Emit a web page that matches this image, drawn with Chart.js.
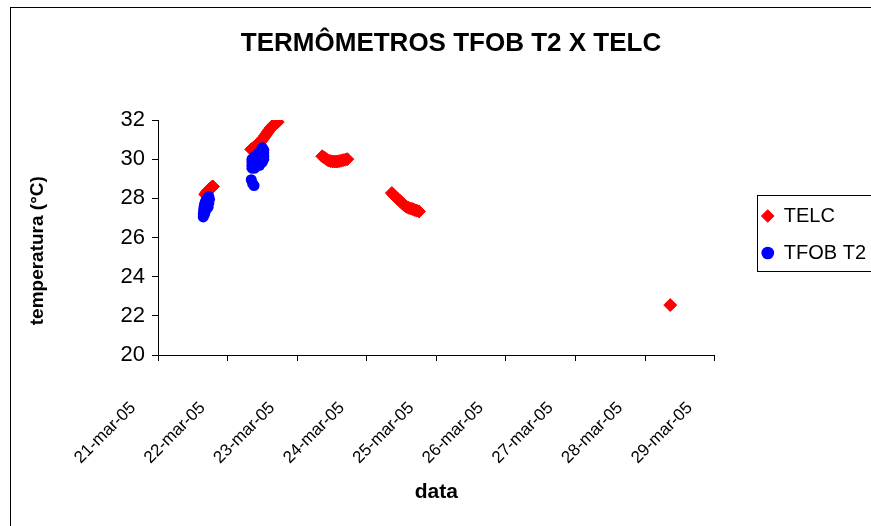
<!DOCTYPE html>
<html>
<head>
<meta charset="utf-8">
<script src="https://cdn.jsdelivr.net/npm/chart.js@4/dist/chart.umd.min.js"></script>
<style>
  html, body { margin: 0; padding: 0; background: #ffffff; }
  #wrap { width: 871px; height: 526px; }
</style>
</head>
<body>
<div id="wrap"><canvas id="c" width="871" height="526"></canvas></div>
<script>
// ---- data (x = day of March 2005, y = temperature °C) ----
const tickLabels = ['21-mar-05','22-mar-05','23-mar-05','24-mar-05','25-mar-05','26-mar-05','27-mar-05','28-mar-05','29-mar-05'];

const telcDays = [
  21.68,21.69,21.70,21.71,21.72,21.73,21.74,21.75,21.76,21.77,21.78,21.79,
  22.34,22.36,22.38,22.40,22.42,22.44,22.46,22.48,22.50,22.52,22.54,22.56,22.58,22.60,22.62,22.64,22.66,22.68,22.70,22.72,
  23.36,23.39,23.42,23.45,23.48,23.51,23.54,23.57,23.60,23.63,23.66,23.69,23.72,
  24.36,24.39,24.42,24.45,24.48,24.51,24.54,24.57,24.60,24.63,24.66,24.69,24.72,24.75,
  28.36
];
const telcTemps = [
  28.20,28.25,28.30,28.35,28.40,28.40,28.45,28.50,28.50,28.55,28.60,28.60,
  30.50,30.55,30.60,30.65,30.72,30.80,30.85,30.92,31.00,31.10,31.20,31.30,31.40,31.50,31.60,31.68,31.75,31.80,31.85,31.90,
  30.15,30.08,30.00,29.93,29.90,29.88,29.88,29.88,29.90,29.92,29.95,29.97,30.00,
  28.27,28.15,28.05,27.95,27.86,27.75,27.65,27.57,27.52,27.48,27.45,27.40,27.37,27.33,
  22.55
];

const tfobDays = [
  21.65,21.65,21.655,21.66,21.665,21.67,21.68,21.69,21.70,21.71,21.72,21.73,
  21.67,21.69,21.72,21.73,21.74,
  22.35,22.35,22.35,22.35,
  22.39,22.39,22.39,22.39,22.39,
  22.44,22.44,22.44,22.44,22.44,
  22.48,22.48,22.48,22.48,
  22.52,22.52,22.52,22.50,
  22.46,22.50,22.52,
  22.34,22.36,22.38
];
const tfobTemps = [
  27.05,27.20,27.35,27.50,27.60,27.70,27.80,27.90,27.95,28.00,28.05,28.10,
  27.20,27.40,27.55,27.75,27.95,
  29.54,29.69,29.85,30.00,
  29.54,29.69,29.85,30.00,30.15,
  29.69,29.85,30.00,30.15,30.31,
  30.00,30.15,30.31,30.46,
  30.15,30.31,30.46,30.58,
  29.69,29.85,30.00,
  28.95,28.75,28.65
];

const FONT = "'Liberation Sans', Arial, sans-serif";

const toPoints = (xs, ys) => xs.map((x, i) => ({ x: x, y: ys[i] }));

const framePlugin = {
  id: 'frame',
  afterDraw(chart) {
    const ctx = chart.ctx;
    ctx.save();
    ctx.strokeStyle = '#000';
    ctx.lineWidth = 1;
    ctx.strokeRect(10.5, 7.5, 1200, 1200);
    const hb = chart.legend && chart.legend.legendHitBoxes;
    if (hb && hb.length) {
      const l = Math.round(hb[0].left - 5) + 0.5;
      const t = Math.round(hb[0].top - 11) + 0.5;
      const last = hb[hb.length - 1];
      const b = Math.round(last.top + last.height + 8) + 0.5;
      ctx.strokeRect(l, t, 1200, b - t);
    }
    ctx.restore();
  }
};

new Chart(document.getElementById('c'), {
  type: 'scatter',
  data: {
    datasets: [
      {
        label: 'TFOB T2',
        data: toPoints(tfobDays, tfobTemps),
        pointStyle: 'circle',
        pointRadius: 5.5,
        borderWidth: 0,
        backgroundColor: '#0000FF',
        borderColor: '#0000FF',
        showLine: false
      },
      {
        label: 'TELC',
        data: toPoints(telcDays, telcTemps),
        pointStyle: 'rectRot',
        pointRadius: 6.5,
        borderWidth: 1,
        backgroundColor: '#FF0000',
        borderColor: '#FF0000',
        showLine: false
      }
    ]
  },
  options: {
    responsive: false,
    animation: false,
    events: [],
    layout: { padding: { left: 26, right: -5, top: 0, bottom: 0 } },
    plugins: {
      title: {
        display: true,
        text: 'TERMÔMETROS TFOB T2 X TELC',
        color: '#000',
        font: { family: FONT, size: 26, weight: 'bold', lineHeight: 1.2 },
        padding: { top: 28, bottom: 60.8 }
      },
      legend: {
        position: 'right',
        fullSize: false,
        reverse: true,
        align: 'center',
        title: { display: true, text: '', font: { size: 10, lineHeight: 1 }, padding: -8 },
        labels: {
          usePointStyle: true,
          boxWidth: 12,
          boxHeight: 9,
          padding: 17,
          color: '#000',
          font: { family: FONT, size: 20 }
        }
      },
      tooltip: { enabled: false }
    },
    scales: {
      x: {
        type: 'linear',
        position: 'bottom',
        min: 21,
        max: 29,
        afterFit: (s) => { s.height = 171; },
        ticks: {
          stepSize: 1,
          autoSkip: false,
          minRotation: 45,
          maxRotation: 45,
          labelOffset: -25,
          padding: 37,
          color: '#000',
          font: { family: FONT, size: 17 },
          callback: (v) => tickLabels[Math.round(v - 21)]
        },
        grid: { drawOnChartArea: false, drawTicks: true, tickLength: 6, tickColor: '#000', tickWidth: 1 },
        border: { color: '#000', width: 1 },
        title: {
          display: true,
          text: 'data',
          color: '#000',
          font: { family: FONT, size: 21, weight: 'bold', lineHeight: 1.2 },
          padding: { top: 0, bottom: 21 }
        }
      },
      y: {
        type: 'linear',
        position: 'left',
        min: 20,
        max: 32,
        afterFit: (s) => { s.width = 132; },
        ticks: {
          stepSize: 2,
          padding: 7,
          color: '#000',
          font: { family: FONT, size: 22 }
        },
        grid: { drawOnChartArea: false, drawTicks: true, tickLength: 6, tickColor: '#000', tickWidth: 1 },
        border: { color: '#000', width: 1 },
        title: {
          display: true,
          text: 'temperatura (°C)     ',
          color: '#000',
          font: { family: FONT, size: 19, weight: 'bold', lineHeight: 1.2 },
          padding: { top: 0, bottom: 0 }
        }
      },
      spacer: {
        type: 'linear',
        position: 'right',
        display: true,
        afterFit: (s) => { s.width = 30; },
        grid: { display: false },
        border: { display: false },
        ticks: { display: false }
      }
    }
  },
  plugins: [framePlugin]
});
</script>
</body>
</html>
